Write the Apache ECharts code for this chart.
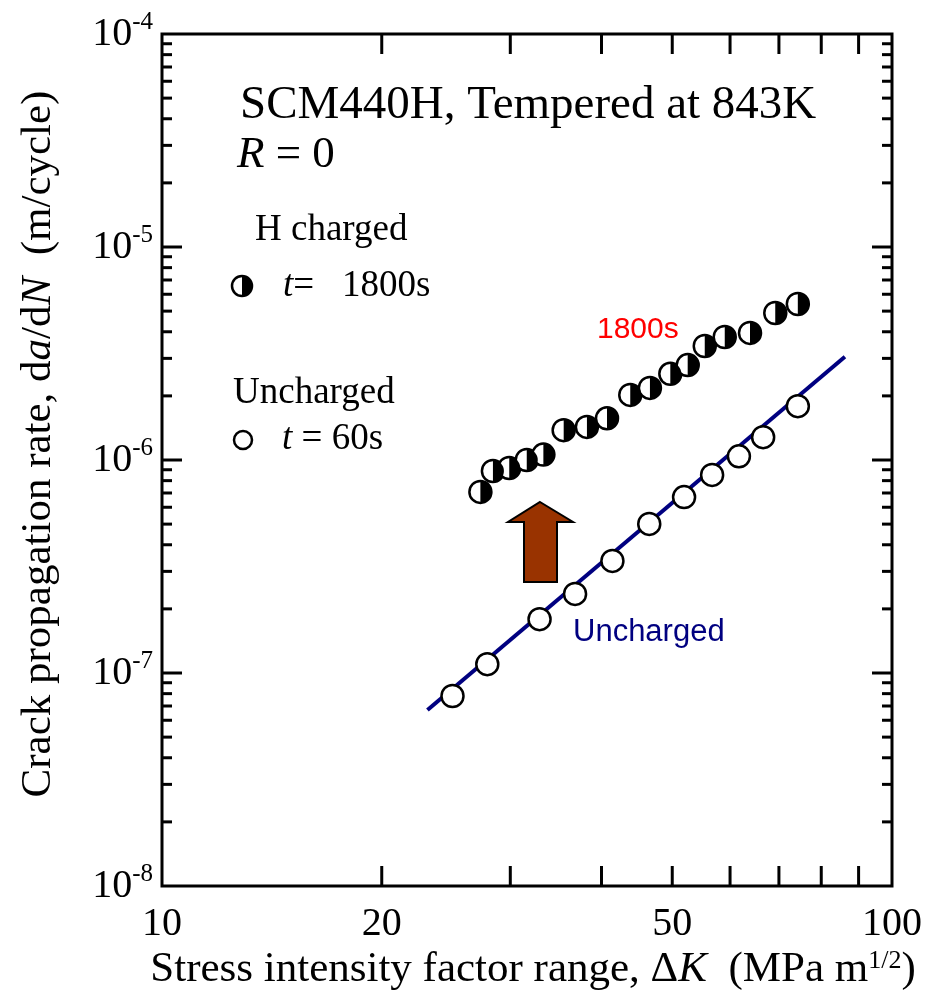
<!DOCTYPE html>
<html>
<head>
<meta charset="utf-8">
<script src="https://cdn.jsdelivr.net/npm/echarts@6/dist/echarts.min.js"></script>
<style>
  html, body { margin: 0; padding: 0; background: #fff; }
  #main { width: 934px; height: 1005px; }
</style>
</head>
<body>
<div id="main"></div>
<script>
// uncharged, t = 60s (open circles)
var unchargedK = [25.0, 27.9, 32.9, 36.8, 41.4, 46.5, 51.9, 56.7, 61.7, 66.6, 74.3];
var unchargedRate = [7.8e-8, 1.10e-7, 1.79e-7, 2.35e-7, 3.36e-7, 5.01e-7, 6.70e-7, 8.51e-7, 1.04e-6, 1.28e-6, 1.79e-6];
// H charged, t = 1800s (half filled)
var chargedK = [27.3, 28.4, 29.9, 31.6, 33.3, 35.5, 38.2, 40.7, 43.8, 46.6, 49.7, 52.5, 55.4, 59.0, 63.9, 69.2, 74.3];
var chargedRate = [7.08e-7, 8.88e-7, 9.17e-7, 1.00e-6, 1.06e-6, 1.38e-6, 1.43e-6, 1.57e-6, 2.02e-6, 2.18e-6, 2.54e-6, 2.79e-6, 3.43e-6, 3.78e-6, 3.95e-6, 4.90e-6, 5.40e-6];
// fitted line through uncharged data
var fitK = [23.1, 86.2];
var fitRate = [6.7e-8, 3.05e-6];

// axes
var xMin = 10, xMax = 100;
var yMin = 1e-8, yMax = 1e-4;
var xTicks = [20, 30, 40, 50, 60, 70, 80, 90];
var xLabels = [10, 20, 50, 100];
var yMajor = [1e-7, 1e-6, 1e-5];
var yLabels = [1e-8, 1e-7, 1e-6, 1e-5, 1e-4];
var yDecades = [1e-8, 1e-7, 1e-6, 1e-5];
var yMult = [2, 3, 4, 5, 6, 7, 8, 9];

var yMinor = [];
yDecades.forEach(function (d) {
  yMult.forEach(function (m) { yMinor.push(m * d); });
});

var serif = 'Liberation Serif';
var sans = 'Liberation Sans';

function zip(a, b) {
  return a.map(function (v, i) { return [v, b[i]]; });
}

var myChart = echarts.init(document.getElementById('main'));

var yTickData = yMajor.map(function (v) { return [xMin, v, 20]; })
  .concat(yMinor.map(function (v) { return [xMin, v, 10]; }));

var option = {
  backgroundColor: '#fff',
  animation: false,
  grid: {
    left: 162, top: 34, width: 730, height: 852,
    show: true, borderColor: '#000', borderWidth: 3, backgroundColor: 'transparent'
  },
  xAxis: {
    type: 'log', logBase: 10, min: xMin, max: xMax,
    axisLine: { show: false }, axisTick: { show: false }, axisLabel: { show: false },
    splitLine: { show: false },
    name: 'Stress intensity factor range, Δ{i|K}  (MPa m{sup|1/2})',
    nameLocation: 'middle', nameGap: 62,
    nameTextStyle: {
      fontFamily: serif, fontSize: 43, color: '#000', padding: [0, 0, 0, 12],
      rich: {
        i: { fontFamily: serif, fontSize: 43, fontStyle: 'italic', color: '#000' },
        sup: { fontFamily: serif, fontSize: 26, color: '#000', verticalAlign: 'top' }
      }
    }
  },
  yAxis: {
    type: 'log', logBase: 10, min: yMin, max: yMax,
    axisLine: { show: false }, axisTick: { show: false }, axisLabel: { show: false },
    splitLine: { show: false },
    name: 'Crack propagation rate, d{i|a}/d{i|N}  (m/cycle)',
    nameLocation: 'middle', nameGap: 102,
    nameTextStyle: {
      fontFamily: serif, fontSize: 43, color: '#000', padding: [0, 0, 0, 32],
      rich: {
        i: { fontFamily: serif, fontSize: 43, fontStyle: 'italic', color: '#000' }
      }
    }
  },
  series: [
    {
      // x ticks, bottom and top
      type: 'custom', silent: true, clip: false,
      data: xTicks.map(function (v) { return [v, yMin]; }),
      renderItem: function (params, api) {
        var b = api.coord([api.value(0), yMin]);
        var t = api.coord([api.value(0), yMax]);
        var st = { stroke: '#000', lineWidth: 3 };
        return { type: 'group', children: [
          { type: 'line', shape: { x1: b[0], y1: b[1], x2: b[0], y2: b[1] - 20 }, style: st },
          { type: 'line', shape: { x1: t[0], y1: t[1], x2: t[0], y2: t[1] + 20 }, style: st }
        ]};
      }
    },
    {
      // y ticks, left and right
      type: 'custom', silent: true, clip: false,
      data: yTickData,
      encode: { x: 0, y: 1 },
      renderItem: function (params, api) {
        var len = api.value(2);
        var l = api.coord([xMin, api.value(1)]);
        var r = api.coord([xMax, api.value(1)]);
        var st = { stroke: '#000', lineWidth: 3 };
        return { type: 'group', children: [
          { type: 'line', shape: { x1: l[0], y1: l[1], x2: l[0] + len, y2: l[1] }, style: st },
          { type: 'line', shape: { x1: r[0], y1: r[1], x2: r[0] - len, y2: r[1] }, style: st }
        ]};
      }
    },
    {
      // x tick labels
      type: 'custom', silent: true, clip: false,
      data: xLabels.map(function (v) { return [v, yMin]; }),
      renderItem: function (params, api) {
        var p = api.coord([api.value(0), yMin]);
        return { type: 'text', x: p[0], y: p[1] + 18, style: {
          text: String(api.value(0)), fontFamily: serif, fontSize: 40, fill: '#000',
          align: 'center', verticalAlign: 'top'
        }};
      }
    },
    {
      // y tick labels 10^n
      type: 'custom', silent: true, clip: false,
      data: yLabels.map(function (v) { return [xMin, v]; }),
      renderItem: function (params, api) {
        var p = api.coord([xMin, api.value(1)]);
        var e = Math.round(Math.log10(api.value(1)));
        return { type: 'text', x: p[0] - 9, y: p[1] - 2, style: {
          text: '{b|10}{s|' + e + '}', align: 'right', verticalAlign: 'middle',
          rich: {
            b: { fontFamily: serif, fontSize: 40, fill: '#000', lineHeight: 44, verticalAlign: 'bottom' },
            s: { fontFamily: serif, fontSize: 25, fill: '#000', verticalAlign: 'top' }
          }
        }};
      }
    },
    {
      name: 'fit', type: 'line', data: zip(fitK, fitRate), symbol: 'none', silent: true,
      lineStyle: { color: '#000080', width: 4 }, z: 2
    },
    {
      name: 'Uncharged', type: 'scatter', data: zip(unchargedK, unchargedRate),
      symbol: 'circle', symbolSize: 22,
      itemStyle: { color: '#fff', borderColor: '#000', borderWidth: 2.5, opacity: 1 }, z: 3
    },
    {
      name: 'H charged', type: 'scatter', data: zip(chargedK, chargedRate),
      symbol: 'circle', symbolSize: 22,
      itemStyle: { color: '#fff', borderColor: '#000', borderWidth: 2.5, opacity: 1 }, z: 3
    },
    {
      name: 'H charged half', type: 'scatter', data: zip(chargedK, chargedRate),
      symbol: 'path://M0,0 A10,10 0 0,1 0,20 Z', symbolSize: [11, 22], symbolOffset: [5.5, 0],
      itemStyle: { color: '#000', borderWidth: 0, opacity: 1 }, z: 4
    }
  ],
  graphic: [
    { type: 'text', left: 240, top: 82, style: { text: 'SCM440H, Tempered at 843K', fontFamily: serif, fontSize: 47, fill: '#000' } },
    { type: 'text', left: 237, top: 133, style: {
      text: '{i|R} = 0', fontFamily: serif, fontSize: 45, fill: '#000',
      rich: { i: { fontFamily: serif, fontSize: 45, fontStyle: 'italic', fill: '#000' } } } },
    { type: 'text', left: 255, top: 212, style: { text: 'H charged', fontFamily: serif, fontSize: 37, fill: '#000' } },
    { type: 'circle', shape: { cx: 242, cy: 286, r: 10 }, style: { fill: '#fff', stroke: '#000', lineWidth: 2.5 } },
    { type: 'sector', shape: { cx: 242, cy: 286, r0: 0, r: 10, startAngle: -Math.PI / 2, endAngle: Math.PI / 2 }, style: { fill: '#000' } },
    { type: 'text', left: 283, top: 268, style: {
      text: '{i|t}=   1800s', fontFamily: serif, fontSize: 37, fill: '#000',
      rich: { i: { fontFamily: serif, fontSize: 37, fontStyle: 'italic', fill: '#000' } } } },
    { type: 'text', left: 233, top: 375, style: { text: 'Uncharged', fontFamily: serif, fontSize: 37, fill: '#000' } },
    { type: 'circle', shape: { cx: 243, cy: 440, r: 9 }, style: { fill: '#fff', stroke: '#000', lineWidth: 2.5 } },
    { type: 'text', left: 282, top: 421, style: {
      text: '{i|t} = 60s', fontFamily: serif, fontSize: 37, fill: '#000',
      rich: { i: { fontFamily: serif, fontSize: 37, fontStyle: 'italic', fill: '#000' } } } },
    { type: 'text', left: 597, top: 315, style: { text: '1800s', fontFamily: sans, fontSize: 30, fill: '#ff0000' } },
    { type: 'text', left: 573, top: 617, style: { text: 'Uncharged', fontFamily: sans, fontSize: 31, fill: '#000080' } },
    { type: 'polygon', shape: { points: [[540, 502], [573, 522], [557, 522], [557, 582], [524, 582], [524, 522], [508, 522]] },
      style: { fill: '#993300', stroke: '#000', lineWidth: 2 } }
  ]
};

myChart.setOption(option);
</script>
</body>
</html>
